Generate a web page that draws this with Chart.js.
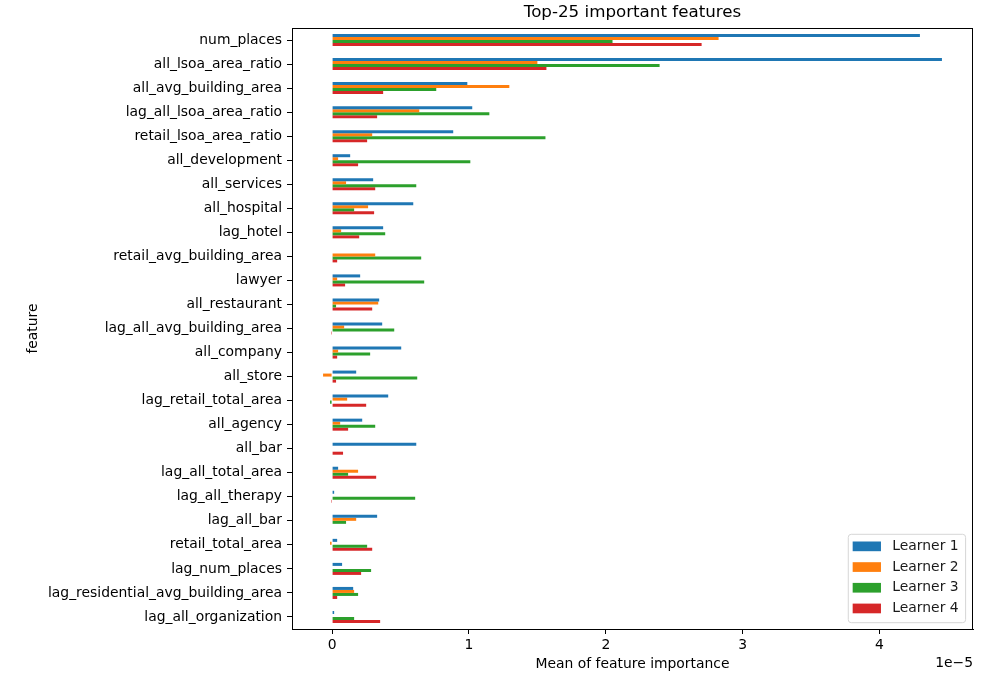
<!DOCTYPE html>
<html>
<head>
<meta charset="utf-8">
<script src="https://cdn.jsdelivr.net/npm/chart.js@4"></script>
<style>
  html, body { margin: 0; padding: 0; background: #fff; }
  #wrap { width: 1000px; height: 700px; position: relative; }
</style>
</head>
<body>
<div id="wrap"><canvas id="FeatureChart" width="1000" height="700"></canvas></div>
<script>
// values are in units of 1e-5
const features = ['num_places', 'all_lsoa_area_ratio', 'all_avg_building_area', 'lag_all_lsoa_area_ratio',
  'retail_lsoa_area_ratio', 'all_development', 'all_services', 'all_hospital', 'lag_hotel',
  'retail_avg_building_area', 'lawyer', 'all_restaurant', 'lag_all_avg_building_area', 'all_company',
  'all_store', 'lag_retail_total_area', 'all_agency', 'all_bar', 'lag_all_total_area', 'lag_all_therapy',
  'lag_all_bar', 'retail_total_area', 'lag_num_places', 'lag_residential_avg_building_area', 'lag_all_organization'];

const learner1 = [4.295, 4.456, 0.988, 1.024, 0.885, 0.132, 0.300, 0.593, 0.373, 0.000, 0.205, 0.344, 0.366,
  0.505, 0.176, 0.410, 0.220, 0.615, 0.044, 0.015, 0.329, 0.037, 0.073, 0.154, 0.015];
const learner2 = [2.824, 1.500, 1.295, 0.637, 0.293, 0.044, 0.102, 0.263, 0.066, 0.315, 0.037, 0.337, 0.088,
  0.044, -0.066, 0.110, 0.059, 0.000, 0.190, 0.000, 0.176, -0.015, 0.000, 0.161, 0.000];
const learner3 = [2.049, 2.393, 0.761, 1.149, 1.559, 1.010, 0.615, 0.161, 0.388, 0.651, 0.673, 0.029, 0.454,
  0.278, 0.622, -0.015, 0.315, 0.000, 0.117, 0.607, 0.102, 0.256, 0.285, 0.190, 0.161];
const learner4 = [2.700, 1.566, 0.373, 0.329, 0.256, 0.190, 0.315, 0.307, 0.198, 0.037, 0.095, 0.293, -0.007,
  0.037, 0.029, 0.249, 0.117, 0.080, 0.322, -0.007, 0.000, 0.293, 0.212, 0.037, 0.351];

const xTicks = [0, 1, 2, 3, 4];
const offsetText = '1e\u22125';

const FONT = "'DejaVu Sans', sans-serif";

// matplotlib-like frame, title, offset text and legend box
const mplDecor = {
  id: 'mplDecor',
  afterDraw(chart) {
    const { ctx, chartArea: a } = chart;
    ctx.save();
    ctx.strokeStyle = '#000';
    ctx.lineWidth = 1;
    ctx.strokeRect(a.left + 0.5, a.top + 0.5, a.right - a.left - 1, a.bottom - a.top);

    ctx.fillStyle = '#000';
    ctx.font = '16.7px ' + FONT;
    ctx.textAlign = 'center';
    ctx.textBaseline = 'middle';
    ctx.fillText('Top-25 important features', (a.left + a.right) / 2, 13);

    ctx.font = '13.9px ' + FONT;
    ctx.textAlign = 'right';
    ctx.fillText(offsetText, a.right, 663);

    // legend
    const ds = chart.data.datasets;
    const tw = Math.max(...ds.map(d => ctx.measureText(d.label).width));
    const w = 4.4 + 28.3 + 11.3 + tw + 7;
    const h = 88.4;
    const x = a.right - 7.4 - w;
    const y = a.bottom - 6.3 - h;
    ctx.beginPath();
    ctx.roundRect(x, y, w, h, 3);
    ctx.fillStyle = 'rgba(255,255,255,0.8)';
    ctx.fill();
    ctx.strokeStyle = '#d6d6d6';
    ctx.stroke();
    ctx.textAlign = 'left';
    ds.forEach((d, i) => {
      const cy = y + 12 + i * 20.7;
      ctx.fillStyle = d.backgroundColor;
      ctx.fillRect(x + 4.4, cy - 4.8, 28.3, 9.7);
      ctx.fillStyle = '#1a1a1a';
      ctx.fillText(d.label, x + 4.4 + 28.3 + 11.3, cy);
    });
    ctx.restore();
  }
};

const ctx = document.getElementById('FeatureChart');
const featureChart = new Chart(ctx, {
  type: 'bar',
  data: {
    labels: features,
    datasets: [
      { label: 'Learner 1', data: learner1, backgroundColor: '#1f77b4' },
      { label: 'Learner 2', data: learner2, backgroundColor: '#ff7f0e' },
      { label: 'Learner 3', data: learner3, backgroundColor: '#2ca02c' },
      { label: 'Learner 4', data: learner4, backgroundColor: '#d62728' }
    ]
  },
  options: {
    indexAxis: 'y',
    responsive: false,
    animation: false,
    devicePixelRatio: 1,
    categoryPercentage: 0.5,
    barPercentage: 1.0,
    layout: { padding: { left: 0, top: 28, right: 27, bottom: 0 } },
    plugins: {
      legend: { display: false },
      title: { display: false },
      tooltip: { enabled: false }
    },
    scales: {
      x: {
        type: 'linear',
        min: -0.293,
        max: 4.683,
        afterBuildTicks(scale) { scale.ticks = xTicks.map(v => ({ value: v })); },
        afterFit(scale) { scale.height = 71; },
        grid: { drawOnChartArea: false, drawTicks: true, tickLength: 5, color: '#000', tickWidth: 1 },
        border: { display: true, color: '#000', width: 1 },
        ticks: { color: '#000', padding: 3, font: { family: FONT, size: 13.9 }, maxRotation: 0 },
        title: { display: true, text: 'Mean of feature importance', color: '#000',
          font: { family: FONT, size: 13.9 }, padding: { top: 0, bottom: 27.6 } }
      },
      y: {
        afterFit(scale) { scale.width = 292; },
        grid: { offset: false, drawOnChartArea: false, drawTicks: true, tickLength: 5, color: '#000', tickWidth: 1 },
        border: { display: true, color: '#000', width: 1 },
        ticks: { color: '#000', padding: 5, autoSkip: false, font: { family: FONT, size: 13.9 } },
        title: { display: true, text: 'feature', color: '#000',
          font: { family: FONT, size: 13.9 }, padding: { top: 25, bottom: 0 } }
      }
    }
  },
  plugins: [mplDecor]
});
</script>
</body>
</html>
